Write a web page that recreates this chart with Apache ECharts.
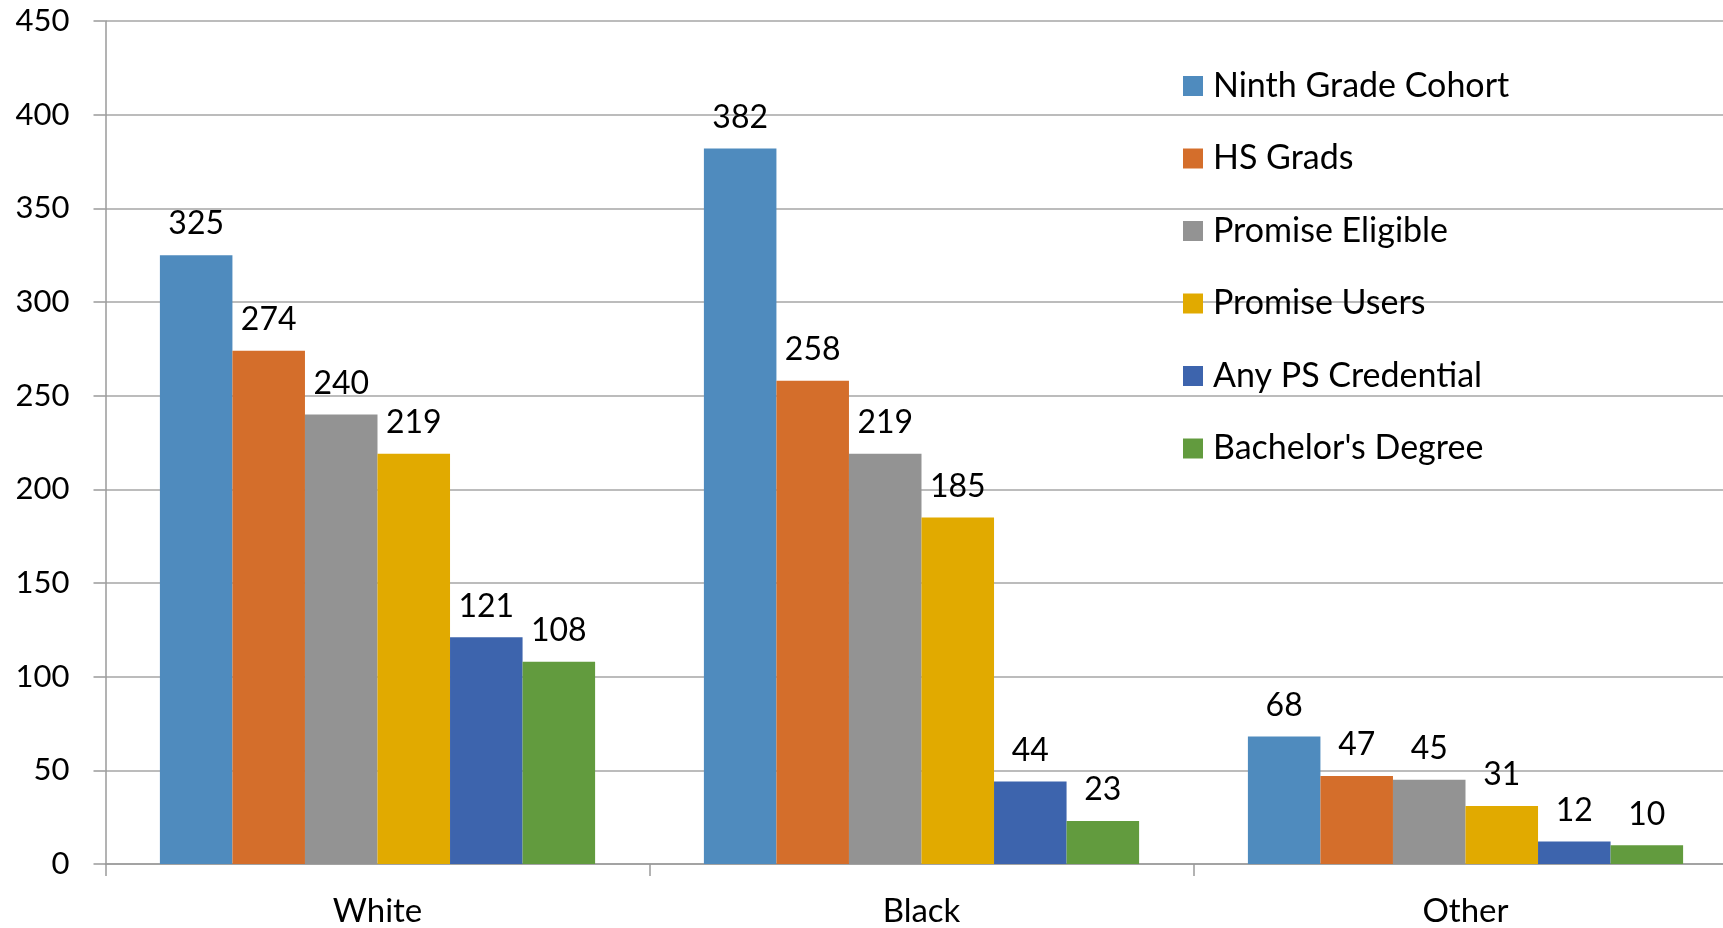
<!DOCTYPE html>
<html><head><meta charset="utf-8">
<script src="https://cdn.jsdelivr.net/npm/echarts@6/dist/echarts.min.js"></script>
<style>html,body{margin:0;padding:0;background:#fff}#c{width:1723px;height:928px}</style>
</head><body><div id="c"></div>
<script>
const categories = ['White', 'Black', 'Other'];
const seriesNames = ['Ninth Grade Cohort', 'HS Grads', 'Promise Eligible', 'Promise Users', 'Any PS Credential', "Bachelor's Degree"];
const ninthGrade = [325, 382, 68];
const hsGrads = [274, 258, 47];
const promiseEligible = [240, 219, 45];
const promiseUsers = [219, 185, 31];
const anyPSCredential = [121, 44, 12];
const bachelors = [108, 23, 10];
const yTicks = [0, 450, 50];
const colors = ['#4F8BBE', '#D46E2B', '#939393', '#E1AA00', '#3D64AD', '#629B3E'];

const values = [ninthGrade, hsGrads, promiseEligible, promiseUsers, anyPSCredential, bachelors];
const FONT = 'Lato';
const chart = echarts.init(document.getElementById('c'));
chart.setOption({
  animation: false,
  color: colors,
  textStyle: { fontFamily: FONT },
  grid: { left: 105.5, width: 1632, top: 21, bottom: 64, containLabel: false, outerBoundsMode: 'none' },
  legend: {
    orient: 'vertical', left: 1178, top: 64,
    itemWidth: 20, itemHeight: 20, itemGap: 38.5,
    icon: 'rect',
    textStyle: { fontFamily: FONT, fontSize: 34, color: '#000', lineHeight: 34, padding: [0, 0, 0, 5] },
    data: seriesNames
  },
  xAxis: {
    type: 'category', data: categories,
    axisLine: { lineStyle: { color: '#9A9A9A', width: 1.5 } },
    axisTick: { show: true, length: 12, lineStyle: { color: '#9A9A9A', width: 1.5 } },
    axisLabel: { fontFamily: FONT, fontSize: 33, color: '#000', margin: 31 }
  },
  yAxis: {
    type: 'value', min: yTicks[0], max: yTicks[1], interval: yTicks[2],
    axisLine: { show: true, lineStyle: { color: '#9A9A9A', width: 1.5 } },
    axisTick: { show: true, length: 12, lineStyle: { color: '#9A9A9A', width: 1.5 } },
    splitLine: { lineStyle: { color: '#A6A6A6', width: 1.5 } },
    axisLabel: { fontFamily: FONT, fontSize: 31, color: '#000', margin: 36 }
  },
  series: seriesNames.map((n, i) => ({
    name: n, type: 'bar', data: values[i],
    barGap: '0%', barCategoryGap: '20%',
    label: { show: true, position: 'top', distance: 15, fontFamily: FONT, fontSize: 32, color: '#000' }
  }))
});
</script></body></html>
